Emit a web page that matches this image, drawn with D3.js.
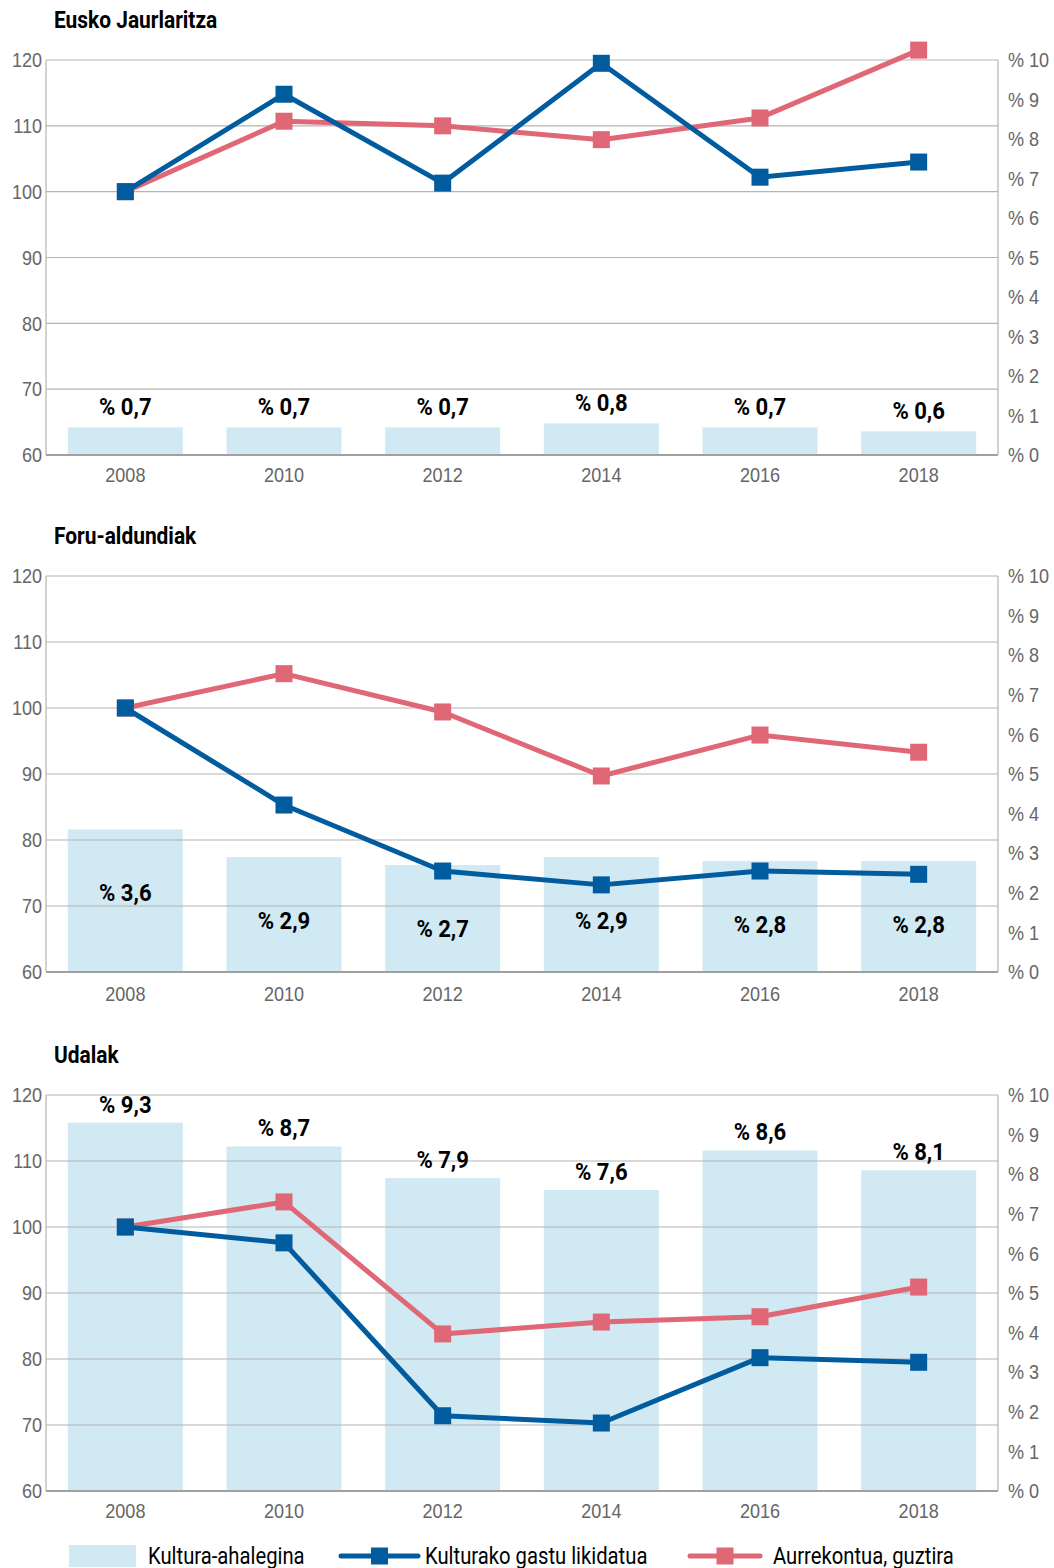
<!DOCTYPE html>
<html><head><meta charset="utf-8">
<script src="https://cdn.jsdelivr.net/npm/d3@7"></script>
<style>
body{margin:0;background:#fff;}
svg{display:block;font-family:Roboto,"DejaVu Sans Condensed",sans-serif;}
.sx{transform-box:fill-box;}
.sx-s{transform-origin:0% 50%;}
.sx-m{transform-origin:50% 50%;}
.sx-e{transform-origin:100% 50%;}
</style></head><body>
<svg id="c" width="1054" height="1568"></svg>
<script>
const years = ["2008","2010","2012","2014","2016","2018"];
const panelTitles = ["Eusko Jaurlaritza","Foru-aldundiak","Udalak"];
const leftTicks = [60,70,80,90,100,110,120];
const rightTicks = [0,1,2,3,4,5,6,7,8,9,10];
// Kultura-ahalegina (%)
const effort1 = [0.7,0.7,0.7,0.8,0.7,0.6];
const effort2 = [3.6,2.9,2.7,2.9,2.8,2.8];
const effort3 = [9.3,8.7,7.9,7.6,8.6,8.1];
const effortLabels1 = ["% 0,7","% 0,7","% 0,7","% 0,8","% 0,7","% 0,6"];
const effortLabels2 = ["% 3,6","% 2,9","% 2,7","% 2,9","% 2,8","% 2,8"];
const effortLabels3 = ["% 9,3","% 8,7","% 7,9","% 7,6","% 8,6","% 8,1"];
// Kulturako gastu likidatua (index 2008=100)
const spend1 = [100,114.8,101.3,119.5,102.2,104.5];
const spend2 = [100,85.3,75.3,73.2,75.3,74.8];
const spend3 = [100,97.6,71.4,70.3,80.2,79.5];
// Aurrekontua, guztira (index 2008=100)
const budget1 = [100,110.7,110.0,107.9,111.2,121.5];
const budget2 = [100,105.2,99.4,89.7,95.9,93.3];
const budget3 = [100,103.8,83.8,85.6,86.4,90.9];
const legendLabels = ["Kultura-ahalegina","Kulturako gastu likidatua","Aurrekontua, guztira"];

const COL_BAR="#d1e9f2", COL_BLUE="#005c9f", COL_RED="#e06775", GRID="#b4b4b4", TXT="#666";
const svg = d3.select("#c");
const x0=46, x1=998;
const panels = [
  {title:panelTitles[0], top:60, bot:455, effort:effort1, labels:effortLabels1, spend:spend1, budget:budget1, labelMode:"above"},
  {title:panelTitles[1], top:576, bot:972, effort:effort2, labels:effortLabels2, spend:spend2, budget:budget2, labelMode:"inside"},
  {title:panelTitles[2], top:1095, bot:1491, effort:effort3, labels:effortLabels3, spend:spend3, budget:budget3, labelMode:"above"}
];

function squeeze(sel, anchor, k){
  sel.attr("class", "sx sx-"+anchor).style("transform", `scaleX(${k})`);
}

const xb = d3.scaleBand().domain(years).range([x0,x1]).paddingInner(0.275).paddingOuter(0.1375);
const xc = d => xb(d)+xb.bandwidth()/2;

panels.forEach((p,pi)=>{
  const g = svg.append("g");
  const yL = d3.scaleLinear().domain([60,120]).range([p.bot,p.top]);
  const yR = d3.scaleLinear().domain([0,10]).range([p.bot,p.top]);
  g.append("text").attr("x",54).attr("y",p.top-32).attr("font-size",23).attr("font-weight","bold")
    .attr("fill","#000").text(p.title).call(squeeze,"s",0.91);
  // bars
  g.selectAll("rect.bar").data(p.effort).join("rect")
    .attr("x",(d,i)=>xb(years[i])).attr("width",xb.bandwidth())
    .attr("y",d=>yR(d)).attr("height",d=>p.bot-yR(d)).attr("fill",COL_BAR);
  // grid
  g.selectAll("line.grid").data(leftTicks.filter(t=>t>60)).join("line")
    .attr("x1",x0).attr("x2",x1).attr("y1",d=>yL(d)).attr("y2",d=>yL(d))
    .attr("stroke",GRID).attr("stroke-width",1.2);
  g.append("line").attr("x1",x0).attr("x2",x0).attr("y1",p.top).attr("y2",p.bot).attr("stroke",GRID).attr("stroke-width",1.2);
  g.append("line").attr("x1",x1).attr("x2",x1).attr("y1",p.top).attr("y2",p.bot).attr("stroke",GRID).attr("stroke-width",1.2);
  g.append("line").attr("x1",x0).attr("x2",x1).attr("y1",p.bot).attr("y2",p.bot).attr("stroke","#a0a0a0").attr("stroke-width",2);
  // left axis
  const la = g.append("g").attr("transform",`translate(${x0},0)`).call(d3.axisLeft(yL).tickValues(leftTicks).tickSize(0).tickPadding(4));
  la.select(".domain").remove();
  la.selectAll("text").attr("font-size",21).attr("fill",TXT).attr("font-family","inherit").call(squeeze,"e",0.86);
  const ra = g.append("g").attr("transform",`translate(${x1},0)`).call(d3.axisRight(yR).tickValues(rightTicks).tickSize(0).tickPadding(10).tickFormat(d=>"% "+d));
  ra.select(".domain").remove();
  ra.selectAll("text").attr("font-size",21).attr("fill",TXT).attr("font-family","inherit").call(squeeze,"s",0.86);
  const ba = g.append("g").attr("transform",`translate(0,${p.bot})`).call(d3.axisBottom(xb).tickSize(0).tickPadding([12,14,12][pi]));
  ba.select(".domain").remove();
  ba.selectAll("text").attr("font-size",21).attr("fill",TXT).attr("font-family","inherit").call(squeeze,"m",0.86);
  // bar labels
  g.selectAll("text.bl").data(p.effort).join("text")
    .attr("x",(d,i)=>xc(years[i]))
    .attr("y",d=> p.labelMode==="above" ? yR(d)-[12,0,10][pi] : yR(d)+72)
    .attr("text-anchor","middle").attr("font-size",23).attr("font-weight","bold").attr("fill","#000")
    .text((d,i)=>p.labels[i]).call(squeeze,"m",0.96);
  // lines
  const line = d3.line().x((d,i)=>xc(years[i])).y(d=>yL(d));
  [[p.budget,COL_RED],[p.spend,COL_BLUE]].forEach(([arr,col])=>{
    g.append("path").datum(arr).attr("d",line).attr("fill","none").attr("stroke",col).attr("stroke-width",5).attr("stroke-linejoin","round");
    g.selectAll(null).data(arr).join("rect")
      .attr("x",(d,i)=>xc(years[i])-8.5).attr("y",d=>yL(d)-8.5).attr("width",17).attr("height",17).attr("fill",col);
  });
});

// legend
const lg = svg.append("g").attr("transform","translate(0,1556)");
lg.append("rect").attr("x",69).attr("y",-11).attr("width",67).attr("height",22).attr("fill",COL_BAR);
lg.append("text").attr("x",148).attr("y",8).attr("font-size",23).attr("fill","#000").text(legendLabels[0]).call(squeeze,"s",0.88);
[[341,418,COL_BLUE,425,legendLabels[1]],[690,760,COL_RED,773,legendLabels[2]]].forEach(([a,b,col,tx,lab])=>{
  lg.append("line").attr("x1",a).attr("x2",b).attr("y1",0).attr("y2",0).attr("stroke",col).attr("stroke-width",5).attr("stroke-linecap","round");
  lg.append("rect").attr("x",(a+b)/2-8.5).attr("y",-8.5).attr("width",17).attr("height",17).attr("fill",col);
  lg.append("text").attr("x",tx).attr("y",8).attr("font-size",23).attr("fill","#000").text(lab).call(squeeze,"s",0.88);
});
</script></body></html>
